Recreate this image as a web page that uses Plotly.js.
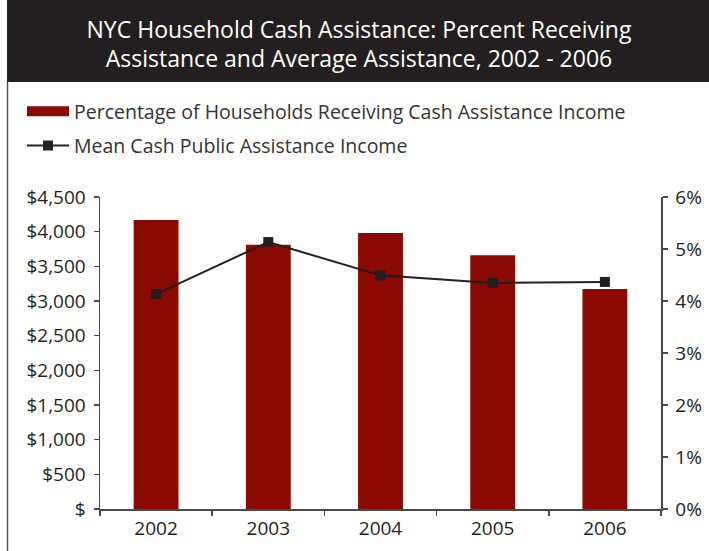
<!DOCTYPE html>
<html>
<head>
<meta charset="utf-8">
<script src="https://cdn.plot.ly/plotly-3.0.1.min.js"></script>
<style>html,body{margin:0;padding:0;background:#fff;}#chart{width:709px;height:551px;}</style>
</head>
<body>
<div id="chart"></div>
<script>
// ---- data ----
const years = ["2002", "2003", "2004", "2005", "2006"];
const pctReceiving = [5.56, 5.08, 5.31, 4.88, 4.23];        // percent of households (right axis)
const meanAssistance = [3100, 3850, 3370, 3260, 3275];      // mean cash assistance, $ (left axis)
const dollarTicks = [0, 500, 1000, 1500, 2000, 2500, 3000, 3500, 4000, 4500];
const dollarLabels = ["$", "$500", "$1,000", "$1,500", "$2,000", "$2,500", "$3,000", "$3,500", "$4,000", "$4,500"];
const pctTicks = [0, 1, 2, 3, 4, 5, 6];
const pctLabels = ["0%", "1%", "2%", "3%", "4%", "5%", "6%"];
const barName = "Percentage of Households Receiving Cash Assistance Income";
const lineName = "Mean Cash Public Assistance Income";

const RED = "#8b0a03";
const DARK = "#231f20";
const AXIS = "#4a4a4a";
const FONT = "Open Sans, Noto Sans, sans-serif";

const traces = [
  {
    type: "bar", x: years, y: pctReceiving, yaxis: "y",
    marker: {color: RED}, width: 0.4, showlegend: false, hoverinfo: "x+y"
  },
  { // legend entry for the bars (wide red swatch)
    type: "scatter", mode: "lines", x: [null], y: [null], yaxis: "y",
    name: barName, line: {color: RED, width: 10}, legendgroup: "a", showlegend: true
  },
  {
    type: "scatter", mode: "lines+markers", x: years, y: meanAssistance, yaxis: "y2",
    name: lineName, legendgroup: "b",
    line: {color: DARK, width: 2},
    marker: {symbol: "square", size: 10, color: DARK}
  }
];

const layout = {
  width: 709, height: 551,
  margin: {l: 100, r: 48, t: 197, b: 42, pad: 0, autoexpand: false},
  paper_bgcolor: "#fff", plot_bgcolor: "#fff",
  font: {family: FONT, color: DARK, size: 18},
  title: {
    text: "NYC Household Cash Assistance: Percent Receiving<br>Assistance and Average Assistance, 2002 - 2006",
    font: {family: FONT, size: 23, color: "#ffffff"},
    x: 359 / 709, xref: "container", xanchor: "center",
    y: 1 - 37.5 / 551, yref: "container", yanchor: "middle"
  },
  showlegend: true,
  legend: {
    xref: "container", yref: "container",
    x: 22 / 709, y: 1 - 92 / 551, xanchor: "left", yanchor: "top",
    font: {family: FONT, size: 19.5, color: "#333"},
    tracegroupgap: 6, bgcolor: "rgba(0,0,0,0)", itemwidth: 42
  },
  xaxis: {
    type: "category", showgrid: false, zeroline: false,
    showline: true, linecolor: AXIS, linewidth: 1.5,
    ticks: "outside", tickson: "boundaries", ticklen: 5, tickcolor: AXIS, tickwidth: 1.5,
    tickfont: {family: FONT, size: 19, color: DARK}, tickangle: 0, ticklabelstandoff: 2
  },
  yaxis: {
    side: "right", range: [0, 6], tickvals: pctTicks, ticktext: pctLabels,
    showgrid: false, zeroline: false, showline: true, linecolor: AXIS, linewidth: 1.5,
    ticks: "outside", ticklen: 5, tickcolor: AXIS, tickwidth: 1.5,
    tickfont: {family: FONT, size: 19, color: DARK}, fixedrange: true, ticklabelstandoff: 4
  },
  yaxis2: {
    overlaying: "y", side: "left", range: [0, 4500], tickvals: dollarTicks, ticktext: dollarLabels,
    showgrid: false, zeroline: false, showline: true, linecolor: AXIS, linewidth: 1.5,
    ticks: "outside", ticklen: 5, tickcolor: AXIS, tickwidth: 1.5,
    tickfont: {family: FONT, size: 19, color: DARK}, fixedrange: true, ticklabelstandoff: 4
  },
  shapes: [
    {type: "rect", xref: "paper", yref: "paper", layer: "below",
     x0: -93 / 561, x1: 609 / 561, y0: (509 - 82) / 312, y1: 509 / 312 + 0.5,
     fillcolor: DARK, line: {width: 0}},
    {type: "line", xref: "paper", yref: "paper", layer: "below",
     x0: -92.5 / 561, x1: -92.5 / 561, y0: -0.2, y1: (509 - 82) / 312,
     line: {color: "#555", width: 1.5}}
  ]
};

Plotly.newPlot("chart", traces, layout, {displayModeBar: false, staticPlot: true});
</script>
</body>
</html>
